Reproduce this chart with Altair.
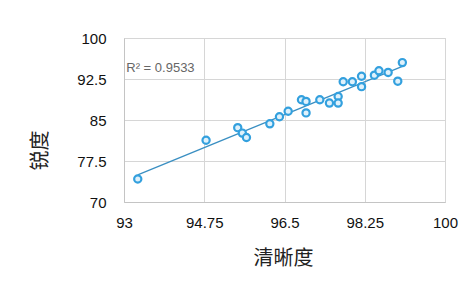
import altair as alt
import pandas as pd

clarity = [93.30, 94.79, 95.48, 95.58, 95.67, 96.18, 96.39, 96.58, 96.87, 96.97,
           96.97, 97.27, 97.48, 97.67, 97.67, 97.78, 97.98, 98.18, 98.18, 98.46,
           98.56, 98.76, 98.97, 99.07]
sharpness = [74.2, 81.3, 83.6, 82.6, 81.8, 84.3, 85.6, 86.6, 88.7, 88.4,
             86.3, 88.7, 88.1, 89.3, 88.1, 92.0, 92.0, 93.0, 91.1, 93.2,
             94.0, 93.7, 92.1, 95.5]
x_ticks = [93, 94.75, 96.5, 98.25, 100]
y_ticks = [70, 77.5, 85, 92.5, 100]
r2_label = ["R² = 0.9533"]
r2_pos_x = [93.05]
r2_pos_y = [94.6]

df = pd.DataFrame({"清晰度": clarity, "锐度": sharpness})
lab = pd.DataFrame({"x": r2_pos_x, "y": r2_pos_y, "t": r2_label})

FONT = "Liberation Sans"
CJK = "Noto Sans CJK SC"

xscale = alt.Scale(domain=[93, 100], nice=False, zero=False)
yscale = alt.Scale(domain=[70, 100], nice=False, zero=False)

xaxis = alt.Axis(values=x_ticks, labelExpr="datum.value", tickSize=0, labelPadding=13,
                 labelFontSize=15, labelFont=FONT, labelColor="#111",
                 gridColor="#d6d6d6", domainColor="#c4c4c4", labelFlush=False,
                 title="清晰度", titleFont=CJK, titleFontSize=20, titleFontWeight="normal",
                 titleColor="#222", titleX=159, titleY=56, titleBaseline="middle",
                 titleAnchor="start", titleAlign="center")
yaxis = alt.Axis(values=y_ticks, labelExpr="datum.value", tickSize=0, labelPadding=18,
                 labelFontSize=15, labelFont=FONT, labelColor="#111",
                 gridColor="#d6d6d6", domainColor="#c4c4c4", labelFlush=False,
                 title="锐度", titleFont=CJK, titleFontSize=20, titleFontWeight="normal",
                 titleColor="#222", titleX=-84, titleY=112, titleBaseline="middle",
                 titleAlign="center", titleAngle=270)

base = alt.Chart(df)

line = base.transform_regression("清晰度", "锐度", method="linear").mark_line(
    color="#3a8fc2", strokeWidth=1.3
).encode(
    x=alt.X("清晰度:Q", scale=xscale, axis=xaxis),
    y=alt.Y("锐度:Q", scale=yscale, axis=yaxis),
)

pts = base.mark_point(shape="circle", filled=False, size=52, stroke="#33a0de",
                      strokeWidth=2.2, fill="#dff1fb", fillOpacity=1).encode(
    x=alt.X("清晰度:Q", scale=xscale),
    y=alt.Y("锐度:Q", scale=yscale),
)

txt = alt.Chart(lab).mark_text(align="left", baseline="middle", font=FONT,
                               fontSize=13, color="#666").encode(
    x=alt.X("x:Q", scale=xscale),
    y=alt.Y("y:Q", scale=yscale),
    text="t:N",
)

chart = alt.layer(line, pts, txt).properties(
    width=321, height=164,
    autosize=alt.AutoSizeParams(type="none"),
    padding={"left": 116, "top": 30, "right": 16, "bottom": 72},
    background="white",
).configure_view(stroke="#d0d0d0", strokeWidth=1)

chart.save("out.html", embed_options={"renderer": "svg", "actions": False})
